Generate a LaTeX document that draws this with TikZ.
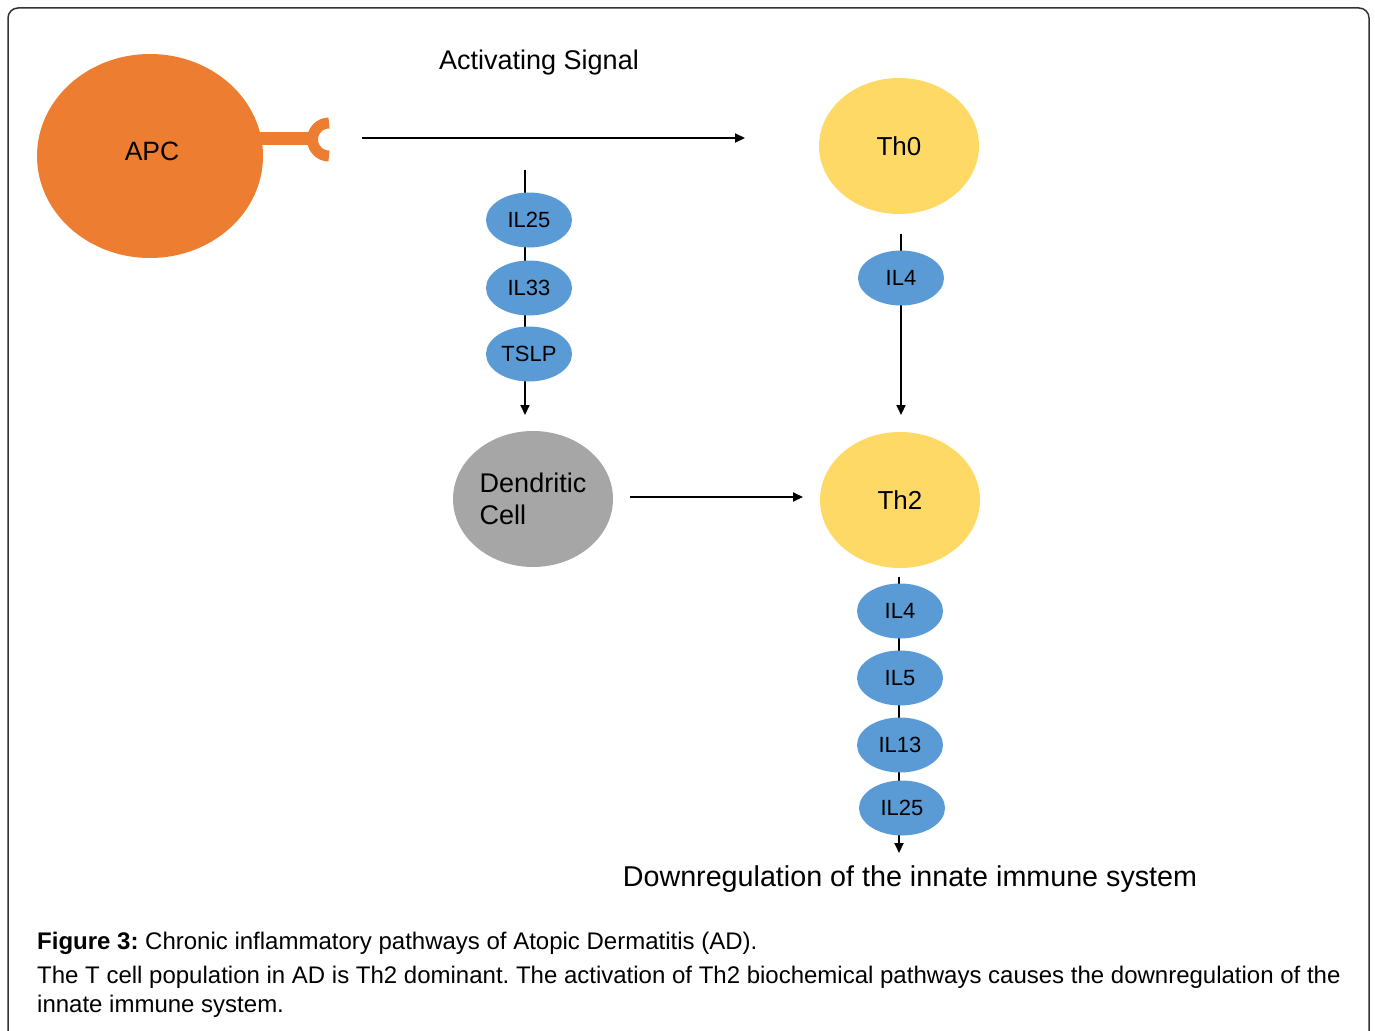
\documentclass[tikz,border=0pt]{standalone}
\usepackage{fontspec}
\setmainfont{Liberation Sans}
\usetikzlibrary{arrows.meta,shapes.geometric}
\definecolor{apcorange}{HTML}{ED7D31}
\definecolor{thyellow}{HTML}{FFD966}
\definecolor{ilblue}{HTML}{5B9BD5}
\definecolor{dcgray}{HTML}{A6A6A6}
\frenchspacing
\tikzset{
  cell/.style={ellipse, inner sep=0pt, minimum width=160pt, minimum height=136pt,
    font=\fontsize{26}{32}\selectfont},
  cyto/.style={ellipse, fill=ilblue, inner sep=0pt, minimum width=86pt,
    minimum height=55pt, font=\fontsize{22}{24}\selectfont},
  sig/.style={line width=2pt, -{Triangle[length=10pt,width=9pt]}},
}
\begin{document}
\begin{tikzpicture}[x=1pt, y=-1pt, line join=round]
  \useasboundingbox (0,0) rectangle (1375,1030);
  % frame
  \draw[line width=1.5pt, color=black!80, rounded corners=10pt]
    (8,1040) -- (8,8) -- (1369,8) -- (1369,1040);

  % APC with receptor
  \node[ellipse, fill=apcorange, minimum width=226pt, minimum height=204pt] (apc) at (150,156) {};
  \node[font=\fontsize{26.5}{30}\selectfont] (apclbl) at (152,151) {APC};
  \fill[apcorange] (255,132) rectangle (312,145);
  \draw[apcorange, line width=11pt] (329,156) arc (90:270:16.5);

  % T cells
  \node[cell, fill=thyellow] (th0) at (899,146) {Th0};
  \node[cell, fill=thyellow] (th2) at (900,500) {Th2};
  \node[cell, fill=dcgray, align=left, font=\fontsize{27}{32}\selectfont]
    (dc) at (533,499) {Dendritic\\Cell};

  % activating signal
  \coordinate (sigA) at (362,138);
  \coordinate (sigB) at (745,138);
  \draw[sig] (sigA) -- (sigB);
  \node[font=\fontsize{27}{30}\selectfont] (actlbl) at (539,63) {Activating Signal};

  % cytokines to dendritic cell
  \coordinate (dctop) at (525,170);
  \coordinate (dcend) at (525,415);
  \draw[sig] (dctop) -- (dcend);
  \node[cyto] (il25a) at (529,220) {IL25};
  \node[cyto] (il33) at (529,288) {IL33};
  \node[cyto] (tslp) at (529,354) {TSLP};

  % Th0 to Th2
  \coordinate (th0low) at (901,234);
  \coordinate (th2top) at (901,415);
  \draw[sig] (th0low) -- (th2top);
  \node[cyto] (il4a) at (901,278) {IL4};

  % dendritic cell to Th2
  \coordinate (dcout) at (630,497);
  \coordinate (th2in) at (803,497);
  \draw[sig] (dcout) -- (th2in);

  % Th2 cytokines
  \coordinate (th2low) at (899,577);
  \coordinate (downend) at (899,853);
  \draw[sig] (th2low) -- (downend);
  \node[cyto] (il4b) at (900,611) {IL4};
  \node[cyto] (il5) at (900,678) {IL5};
  \node[cyto] (il13) at (900,745) {IL13};
  \node[cyto] (il25b) at (902,808) {IL25};
  \node[font=\fontsize{28.7}{32}\selectfont] (down) at (910,879)
    {Downregulation of the innate immune system};

  % caption
  \node[anchor=west, inner sep=0pt, font=\fontsize{24}{29}\selectfont] (fig) at (37,943)
    {\bfseries Figure 3:\mdseries\ Chronic inflammatory pathways of Atopic Dermatitis (AD).};
  \node[anchor=north west, inner sep=0pt, align=left,
    font=\fontsize{24}{29}\selectfont] (cap) at (37,966)
    {The T cell population in AD is Th2 dominant. The activation of Th2 biochemical pathways causes the downregulation of the\\
     innate immune system.};
\end{tikzpicture}
\end{document}
